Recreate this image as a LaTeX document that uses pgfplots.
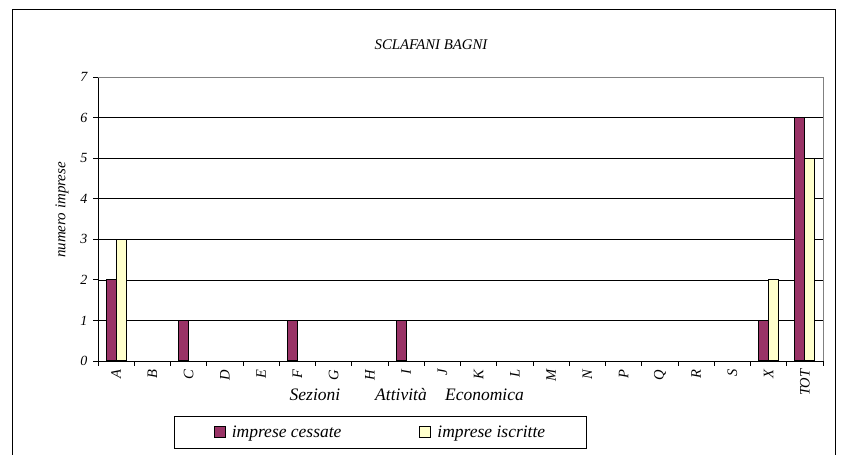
\documentclass[border=0pt]{standalone}
\usepackage{fontspec}
\setmainfont{Liberation Serif}
\usepackage{pgfplots}
\pgfplotsset{compat=1.18}
\definecolor{cess}{HTML}{993366}
\definecolor{iscr}{HTML}{FFFFCC}
\begin{document}
\begin{tikzpicture}[x=1pt,y=1pt]
\useasboundingbox (0,0) rectangle (841,455);
\draw[line width=1pt] (12,-10) -- (12,445) -- (835,445) -- (835,-10);
\begin{axis}[
  at={(98pt,94pt)}, anchor=south west,
  scale only axis, width=725pt, height=284pt,
  xmin=-0.5, xmax=19.5, ymin=0, ymax=7,
  ybar=0pt, bar width=10pt,
  axis x line*=bottom, axis y line*=left,
  axis line style={black, line width=0.9pt},
  xtick={0,...,19},
  xticklabels={A,B,C,D,E,F,G,H,I,J,K,L,M,N,P,Q,R,S,X,TOT},
  xtick style={draw=none},
  minor xtick={-0.5,0.5,...,19.5},
  minor x tick style={draw=black, line width=0.9pt},
  minor tick length=5pt,
  ytick={0,...,7},
  major tick length=5pt,
  tick align=outside,
  ytick style={black, line width=0.9pt},
  ymajorgrids, grid style={black, line width=0.6pt},
  /pgf/number format/assume math mode=true,
  yticklabel style={font=\fontsize{14}{15}\selectfont\itshape, xshift=-2pt},
  xticklabel style={font=\fontsize{14.5}{15}\selectfont\itshape, rotate=90, anchor=east},
  legend style={at={(0.3897,-0.25)}, anchor=center, draw=black, line width=0.9pt,
    font=\fontsize{17.5}{19}\selectfont\itshape, legend columns=2,
    inner xsep=39pt, inner ysep=7.5pt,
    /tikz/every even column/.append style={column sep=76pt}},
  legend cell align=left,
  legend image code/.code={\draw[#1,draw=black,line width=1pt] (0pt,-5.5pt) rectangle (11pt,5.5pt); \path (15pt,0pt);},
]
\addplot[fill=cess, draw=black, line width=1pt] coordinates {(0,2) (2,1) (5,1) (8,1) (18,1) (19,6)};
\addplot[fill=iscr, draw=black, line width=1pt] coordinates {(0,3) (18,2) (19,5)};
\legend{imprese cessate, imprese iscritte}
\end{axis}
\draw[gray, line width=0.9pt] (98,378) -- (823,378) -- (823,94);
\node[font=\fontsize{14.8}{16}\selectfont\itshape] at (431,410) {SCLAFANI BAGNI};
\node[font=\fontsize{15}{17}\selectfont\itshape, rotate=90] at (62,245) {numero imprese};
\node[font=\fontsize{17.5}{19}\selectfont\itshape] at (315,60) {Sezioni};
\node[font=\fontsize{17.5}{19}\selectfont\itshape] at (401,60) {Attività};
\node[font=\fontsize{17.5}{19}\selectfont\itshape] at (484.5,60) {Economica};
\end{tikzpicture}
\end{document}
